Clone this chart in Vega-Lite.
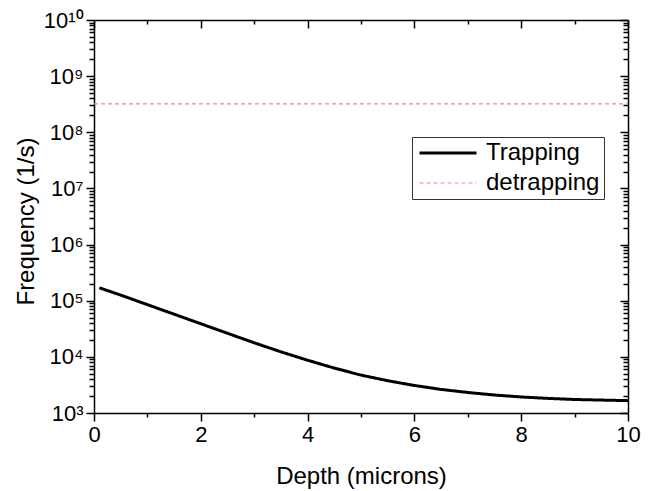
{
  "$schema": "https://vega.github.io/schema/vega-lite/v6.json",
  "width": 534,
  "height": 393,
  "autosize": {"type": "none"},
  "padding": {"left": 94, "top": 20, "right": 24, "bottom": 78},
  "background": "white",
  "config": {
    "view": {"stroke": null},
    "font": "Liberation Sans",
    "axis": {
      "grid": false,
      "domainColor": "black",
      "domainWidth": 1.5,
      "tickColor": "black",
      "tickWidth": 1.5,
      "labelColor": "black",
      "titleColor": "black",
      "labelFont": "Liberation Sans",
      "titleFont": "Liberation Sans",
      "titleFontWeight": "normal",
      "labelFlush": false,
      "labelOverlap": false
    },
    "legend": {
      "orient": "none",
      "legendX": 318,
      "legendY": 117,
      "strokeColor": "#333333",
      "fillColor": "white",
      "padding": 4,
      "labelFont": "Liberation Sans",
      "labelFontSize": 24,
      "labelColor": "black",
      "symbolType": "M-3,0H3",
      "symbolSize": 361,
      "symbolOffset": 20,
      "labelOffset": 26,
      "rowPadding": 6
    }
  },
  "data": {
    "values": [
      {"series": "Trapping", "depth": 0.1, "freq": 169800},
      {"series": "Trapping", "depth": 0.5, "freq": 125900},
      {"series": "Trapping", "depth": 1.0, "freq": 85100},
      {"series": "Trapping", "depth": 1.5, "freq": 57500},
      {"series": "Trapping", "depth": 2.0, "freq": 38900},
      {"series": "Trapping", "depth": 2.5, "freq": 26300},
      {"series": "Trapping", "depth": 3.0, "freq": 17800},
      {"series": "Trapping", "depth": 3.5, "freq": 12300},
      {"series": "Trapping", "depth": 4.0, "freq": 8710},
      {"series": "Trapping", "depth": 4.5, "freq": 6310},
      {"series": "Trapping", "depth": 5.0, "freq": 4730},
      {"series": "Trapping", "depth": 5.5, "freq": 3760},
      {"series": "Trapping", "depth": 6.0, "freq": 3090},
      {"series": "Trapping", "depth": 6.5, "freq": 2630},
      {"series": "Trapping", "depth": 7.0, "freq": 2320},
      {"series": "Trapping", "depth": 7.5, "freq": 2090},
      {"series": "Trapping", "depth": 8.0, "freq": 1930},
      {"series": "Trapping", "depth": 8.5, "freq": 1820},
      {"series": "Trapping", "depth": 9.0, "freq": 1740},
      {"series": "Trapping", "depth": 9.5, "freq": 1700},
      {"series": "Trapping", "depth": 10.0, "freq": 1660},
      {"series": "detrapping", "depth": 0, "freq": 320000000},
      {"series": "detrapping", "depth": 10, "freq": 320000000}
    ]
  },
  "encoding": {
    "color": {"field": "series", "type": "nominal", "title": null, "scale": {"domain": ["Trapping", "detrapping"], "range": ["black", "#f08a8a"]}},
    "strokeDash": {"field": "series", "type": "nominal", "title": null, "scale": {"domain": ["Trapping", "detrapping"], "range": [[1, 0], [4, 3]]}},
    "strokeWidth": {"field": "series", "type": "nominal", "title": null, "scale": {"domain": ["Trapping", "detrapping"], "range": [3, 1.2]}}
  },
  "layer": [
    {
      "transform": [{"filter": "datum.series == 'Trapping'"}],
      "mark": {"type": "line", "strokeCap": "butt"},
      "encoding": {
        "x": {
          "field": "depth", "type": "quantitative",
          "scale": {"domain": [0, 10], "nice": false},
          "axis": {
            "orient": "bottom",
            "values": [0, 1, 2, 3, 4, 5, 6, 7, 8, 9, 10],
            "labelExpr": "datum.value % 2 == 0 ? datum.label : ''",
            "tickSize": {"condition": {"test": "datum.value % 2 == 0", "value": 8}, "value": 4},
            "labelFontSize": 22,
            "labelPadding": 3,
            "title": "Depth (microns)",
            "titleFontSize": 24,
            "titleBaseline": "alphabetic",
            "titleY": 70
          }
        },
        "y": {
          "field": "freq", "type": "quantitative",
          "scale": {"type": "log", "domain": [1000, 10000000000], "nice": false},
          "axis": {
            "orient": "left",
            "values": [1e3, 2e3, 3e3, 4e3, 5e3, 6e3, 7e3, 8e3, 9e3, 1e4, 2e4, 3e4, 4e4, 5e4, 6e4, 7e4, 8e4, 9e4, 1e5, 2e5, 3e5, 4e5, 5e5, 6e5, 7e5, 8e5, 9e5, 1e6, 2e6, 3e6, 4e6, 5e6, 6e6, 7e6, 8e6, 9e6, 1e7, 2e7, 3e7, 4e7, 5e7, 6e7, 7e7, 8e7, 9e7, 1e8, 2e8, 3e8, 4e8, 5e8, 6e8, 7e8, 8e8, 9e8, 1e9, 2e9, 3e9, 4e9, 5e9, 6e9, 7e9, 8e9, 9e9, 1e10],
            "labelExpr": "datum.value == 1e3 ? '10³' : datum.value == 1e4 ? '10⁴' : datum.value == 1e5 ? '10⁵' : datum.value == 1e6 ? '10⁶' : datum.value == 1e7 ? '10⁷' : datum.value == 1e8 ? '10⁸' : datum.value == 1e9 ? '10⁹' : datum.value == 1e10 ? '10¹⁰' : ''",
            "tickSize": {"condition": {"test": "indexof([1e3, 1e4, 1e5, 1e6, 1e7, 1e8, 1e9, 1e10], datum.value) >= 0", "value": 8}, "value": 5},
            "labelFontSize": 22,
            "labelPadding": 3,
            "title": "Frequency (1/s)",
            "titleFontSize": 24,
            "titleBaseline": "alphabetic",
            "titleAngle": -90,
            "titleX": -61,
            "titleY": 201
          }
        }
      }
    },
    {
      "transform": [{"filter": "datum.series == 'detrapping'"}],
      "mark": {"type": "line", "strokeCap": "butt"},
      "encoding": {
        "x": {
          "field": "depth", "type": "quantitative",
          "axis": {
            "orient": "top",
            "values": [0, 1, 2, 3, 4, 5, 6, 7, 8, 9, 10],
            "labels": false,
            "tickSize": {"condition": {"test": "datum.value % 2 == 0", "value": -8}, "value": -4},
            "title": null
          }
        },
        "y": {
          "field": "freq", "type": "quantitative",
          "axis": {
            "orient": "right",
            "values": [1e3, 2e3, 3e3, 4e3, 5e3, 6e3, 7e3, 8e3, 9e3, 1e4, 2e4, 3e4, 4e4, 5e4, 6e4, 7e4, 8e4, 9e4, 1e5, 2e5, 3e5, 4e5, 5e5, 6e5, 7e5, 8e5, 9e5, 1e6, 2e6, 3e6, 4e6, 5e6, 6e6, 7e6, 8e6, 9e6, 1e7, 2e7, 3e7, 4e7, 5e7, 6e7, 7e7, 8e7, 9e7, 1e8, 2e8, 3e8, 4e8, 5e8, 6e8, 7e8, 8e8, 9e8, 1e9, 2e9, 3e9, 4e9, 5e9, 6e9, 7e9, 8e9, 9e9, 1e10],
            "labels": false,
            "tickSize": {"condition": {"test": "indexof([1e3, 1e4, 1e5, 1e6, 1e7, 1e8, 1e9, 1e10], datum.value) >= 0", "value": -8}, "value": -5},
            "title": null
          }
        }
      }
    }
  ],
  "resolve": {"axis": {"x": "independent", "y": "independent"}}
}
